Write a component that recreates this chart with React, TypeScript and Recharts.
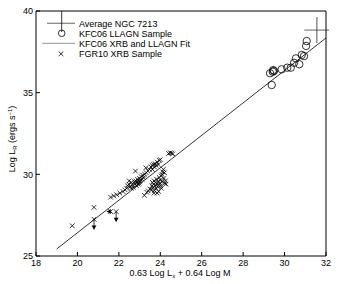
import { ScatterChart, Scatter, XAxis, YAxis, ReferenceLine, Legend } from "recharts"

const xTicks = [18, 20, 22, 24, 26, 28, 30, 32]
const yTicks = [25, 30, 35, 40]

// KFC06 LLAGN sample (circles)
const llagnX = [31.07, 31.04, 30.94, 30.83, 30.71, 30.55, 30.46, 30.3, 30.13, 29.86, 29.49, 29.43, 29.3, 29.38, 29.45]
const llagnY = [38.16, 37.86, 37.24, 37.31, 36.74, 37.1, 36.83, 36.53, 36.53, 36.43, 36.33, 36.28, 36.19, 35.47, 36.38]

// FGR10 XRB sample (crosses)
const xrbX = [
  19.75, 20.8, 20.8, 21.6, 21.87,
  21.6, 21.75, 21.9, 22.05, 22.2, 22.3, 22.38, 22.42, 22.48, 22.55, 22.6, 22.65, 22.7, 22.75, 22.78,
  22.82, 22.85, 22.88, 22.9, 22.93, 22.95, 22.98, 23.0, 23.02, 23.05, 23.08, 23.12, 23.15, 23.2, 23.25,
  23.3, 23.32, 23.4, 23.48, 23.55, 23.6, 23.62, 23.68, 23.72, 23.75, 23.8, 23.85, 23.9, 23.95, 24.0,
  22.8, 22.5, 22.6,
  24.4, 24.48, 24.55, 24.6,
  23.23, 23.35, 23.42, 23.5, 23.58, 23.6, 23.62, 23.65, 23.68, 23.7, 23.72, 23.75, 23.78, 23.8, 23.82,
  23.85, 23.88, 23.9, 23.92, 23.95, 23.98, 24.0, 24.02, 24.05, 24.08, 24.1, 24.12, 24.15, 24.18, 24.2,
  24.22, 24.25, 23.7, 23.85, 24.05, 24.28,
]
const xrbY = [
  26.85, 27.98, 27.25, 27.72, 27.72,
  28.6, 28.68, 28.75, 28.85, 28.95, 29.05, 29.15, 29.3, 29.4, 29.25, 29.5, 29.35, 29.2, 29.55, 29.42,
  29.6, 29.3, 29.5, 29.7, 29.4, 29.6, 29.45, 29.75, 29.55, 29.65, 29.85, 29.7, 29.95, 29.8, 30.0,
  30.4, 30.1, 30.2, 30.3, 30.45, 30.55, 30.3, 30.6, 30.45, 30.65, 30.55, 30.75, 30.6, 30.85, 30.9,
  30.2, 29.6, 29.15,
  31.28, 31.32, 31.3, 31.25,
  28.71, 28.9, 28.98, 29.1, 29.05, 29.3, 29.5, 29.2, 29.4, 29.6, 29.0, 29.3, 29.5, 29.15, 29.7,
  29.4, 29.25, 29.55, 28.95, 29.8, 29.45, 29.65, 29.3, 29.9, 30.0, 29.55, 30.15, 30.3, 29.75, 30.1,
  29.45, 29.6, 28.85, 28.85, 29.15, 29.4,
]

// upper limits: from point to arrow tip
const limitX = [20.8, 21.87, 21.6]
const limitY = [27.25, 27.72, 27.72]
const limitToX = [20.8, 21.87, 21.42]
const limitToY = [26.62, 27.1, 27.72]

// KFC06 XRB and LLAGN fit
const fitX = [19, 32]
const fitY = [25.43, 38.35]

// Average NGC 7213 with error bars
const ngcX = 31.56
const ngcY = 38.83
const ngcXRange = [30.95, 32.15]
const ngcYRange = [38.04, 39.63]

const legendNames = ["Average NGC 7213", "KFC06 LLAGN Sample", "KFC06 XRB and LLAGN Fit", "FGR10 XRB Sample"]

const font = "'Liberation Sans Narrow', 'Liberation Sans', Arial, sans-serif"

const llagn = llagnX.map((x, i) => ({ x, y: llagnY[i] }))
const xrb = xrbX.map((x, i) => ({ x, y: xrbY[i] }))
const arrowHeads = limitToX.map((x, i) => ({ x, y: limitToY[i], dir: limitToX[i] < limitX[i] ? "left" : "down" }))

const Cross = (props: any) => {
  const { cx, cy } = props
  const s = 2.3
  return (
    <g stroke="#000" strokeWidth={0.8}>
      <line x1={cx - s} y1={cy - s} x2={cx + s} y2={cy + s} />
      <line x1={cx - s} y1={cy + s} x2={cx + s} y2={cy - s} />
    </g>
  )
}

const Ring = (props: any) => <circle cx={props.cx} cy={props.cy} r={3.7} fill="none" stroke="#000" strokeWidth={0.8} />

const Head = (props: any) => {
  const { cx, cy, payload } = props
  const pts = payload.dir === "left"
    ? `${cx},${cy} ${cx + 4},${cy - 2.5} ${cx + 4},${cy + 2.5}`
    : `${cx},${cy} ${cx - 2.5},${cy - 4} ${cx + 2.5},${cy - 4}`
  return <polygon points={pts} fill="#000" />
}

const LegendBox = () => {
  const rows = [23.3, 33.3, 43.3, 53.8]
  return (
    <svg width={200} height={62} style={{ display: "block" }}>
      <line x1={47} y1={rows[0]} x2={75} y2={rows[0]} stroke="#888" strokeWidth={1.3} />
      <line x1={61.7} y1={11} x2={61.7} y2={32} stroke="#000" strokeWidth={0.8} />
      <circle cx={61.7} cy={rows[1]} r={3.3} fill="none" stroke="#000" strokeWidth={0.8} />
      <line x1={42} y1={rows[2]} x2={75} y2={rows[2]} stroke="#aaa" strokeWidth={1.3} />
      <Cross cx={61} cy={rows[3]} />
      {legendNames.map((n, i) => (
        <text key={n} x={79} y={rows[i] + 3.3} fontSize={9} fontFamily={font} fill="#000">{n}</text>
      ))}
    </svg>
  )
}

export default function App() {
  const tickStyle = { fontSize: 9, fontFamily: font, fill: "#000" }
  return (
    <div style={{ position: "absolute", left: 0, top: 0, width: 347, height: 284, background: "#fff" }}>
      <ScatterChart width={347} height={284} margin={{ top: 10, right: 20, bottom: 27, left: 35 }}>
        <XAxis xAxisId="b" dataKey="x" type="number" domain={[18, 32]} ticks={xTicks} orientation="bottom" height={1}
          tickSize={-4} tickMargin={8} tick={tickStyle} stroke="#000" allowDataOverflow />
        <XAxis xAxisId="t" dataKey="x" type="number" domain={[18, 32]} ticks={xTicks} orientation="top" height={1}
          tickSize={-4} tick={false} stroke="#000" allowDataOverflow />
        <YAxis yAxisId="l" dataKey="y" type="number" domain={[25, 40]} ticks={yTicks} orientation="left" width={1}
          tickSize={-4} tickMargin={7} tick={tickStyle} stroke="#000" allowDataOverflow />
        <YAxis yAxisId="r" dataKey="y" type="number" domain={[25, 40]} ticks={yTicks} orientation="right" width={1}
          tickSize={-4} tick={false} stroke="#000" allowDataOverflow />
        <ReferenceLine xAxisId="b" yAxisId="l" segment={[{ x: fitX[0], y: fitY[0] }, { x: fitX[1], y: fitY[1] }]}
          stroke="#000" strokeWidth={0.8} ifOverflow="visible" />
        {limitX.map((x, i) => (
          <ReferenceLine key={i} xAxisId="b" yAxisId="l" segment={[{ x, y: limitY[i] }, { x: limitToX[i], y: limitToY[i] }]}
            stroke="#000" strokeWidth={0.8} ifOverflow="visible" />
        ))}
        <ReferenceLine xAxisId="b" yAxisId="l" segment={[{ x: ngcXRange[0], y: ngcY }, { x: ngcXRange[1], y: ngcY }]}
          stroke="#888" strokeWidth={1.3} ifOverflow="visible" />
        <ReferenceLine xAxisId="b" yAxisId="l" segment={[{ x: ngcX, y: ngcYRange[0] }, { x: ngcX, y: ngcYRange[1] }]}
          stroke="#222" strokeWidth={0.8} ifOverflow="visible" />
        <Scatter xAxisId="b" yAxisId="l" name="KFC06 LLAGN Sample" data={llagn} shape={Ring} isAnimationActive={false} />
        <Scatter xAxisId="b" yAxisId="l" name="FGR10 XRB Sample" data={xrb} shape={Cross} isAnimationActive={false} />
        <Scatter xAxisId="b" yAxisId="l" name="limits" data={arrowHeads} shape={Head} isAnimationActive={false} legendType="none" />
        <Scatter xAxisId="t" yAxisId="r" name="frame" data={[]} isAnimationActive={false} legendType="none" />
        <Legend layout="vertical" align="center" verticalAlign="middle" content={() => <LegendBox />}
          wrapperStyle={{ left: 0, top: 0, width: 200, height: 62 }} />
      </ScatterChart>
      <svg width={347} height={284} style={{ position: "absolute", left: 0, top: 0, pointerEvents: "none" }}>
        <text x={180} y={275.5} textAnchor="middle" fontSize={9} fontFamily={font}>
          0.63 Log L<tspan fontSize={6} dy={2}>x</tspan><tspan dy={-2}> + 0.64 Log M</tspan>
        </text>
        <text transform="translate(15,139) rotate(-90)" textAnchor="middle" fontSize={9} fontFamily={font}>
          Log L<tspan fontSize={6} dy={2}>R</tspan><tspan dy={-2}> (ergs s</tspan><tspan fontSize={6} dy={-3}>−1</tspan><tspan dy={3}>)</tspan>
        </text>
      </svg>
    </div>
  )
}
